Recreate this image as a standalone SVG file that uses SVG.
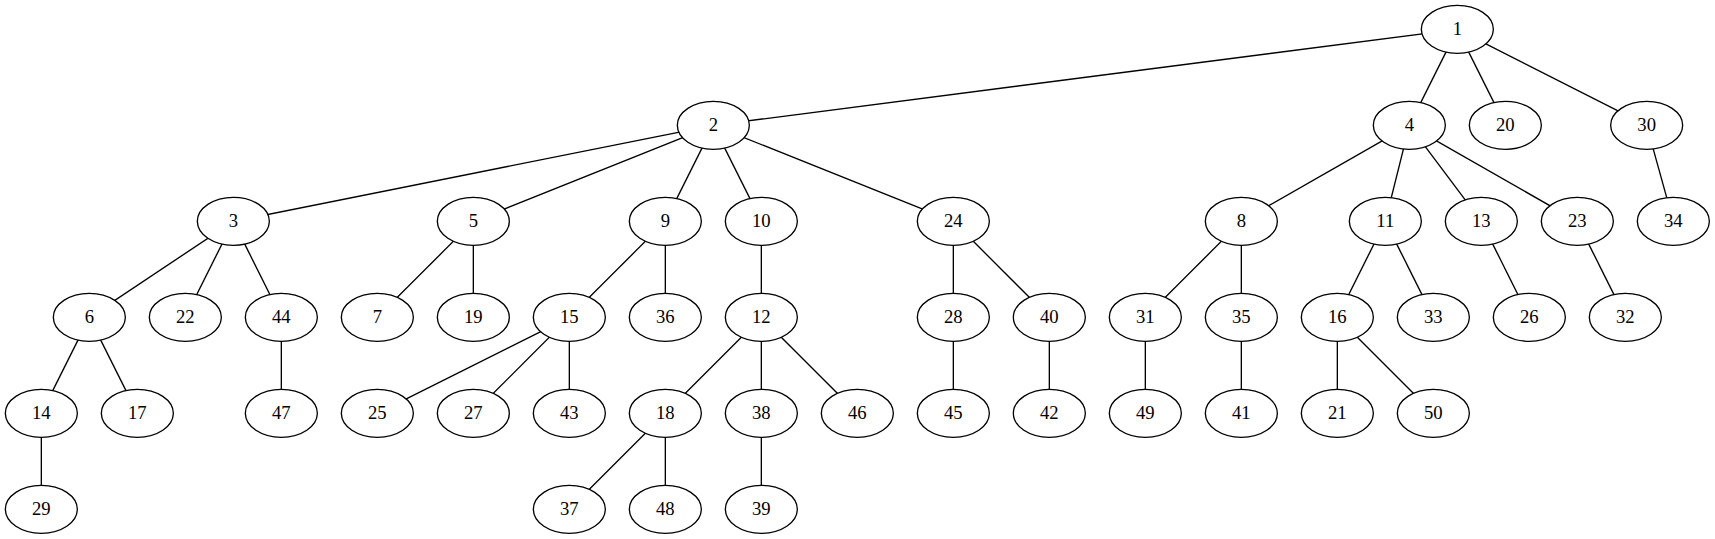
<svg xmlns="http://www.w3.org/2000/svg" width="1715" height="539" viewBox="0 0 1715 539">
<style>
.e line{stroke:#000;stroke-width:1;fill:none}
.n ellipse{fill:#fff;stroke:#000;stroke-width:1}
.n text{font-family:"Liberation Serif","Times New Roman",serif;font-size:14px;text-anchor:middle;fill:#000}
</style>
<rect width="1715" height="539" fill="#fff"/>
<g transform="scale(1.333333)">
<g id="edges" class="e">
<line x1="1093" y1="22" x2="535" y2="94"/>
<line x1="1093" y1="22" x2="1057" y2="94"/>
<line x1="1093" y1="22" x2="1129" y2="94"/>
<line x1="1093" y1="22" x2="1235" y2="94"/>
<line x1="535" y1="94" x2="175" y2="166"/>
<line x1="535" y1="94" x2="355" y2="166"/>
<line x1="535" y1="94" x2="499" y2="166"/>
<line x1="535" y1="94" x2="571" y2="166"/>
<line x1="535" y1="94" x2="715" y2="166"/>
<line x1="1057" y1="94" x2="931" y2="166"/>
<line x1="1057" y1="94" x2="1039" y2="166"/>
<line x1="1057" y1="94" x2="1111" y2="166"/>
<line x1="1057" y1="94" x2="1183" y2="166"/>
<line x1="1235" y1="94" x2="1255" y2="166"/>
<line x1="175" y1="166" x2="67" y2="238"/>
<line x1="175" y1="166" x2="139" y2="238"/>
<line x1="175" y1="166" x2="211" y2="238"/>
<line x1="355" y1="166" x2="283" y2="238"/>
<line x1="355" y1="166" x2="355" y2="238"/>
<line x1="499" y1="166" x2="427" y2="238"/>
<line x1="499" y1="166" x2="499" y2="238"/>
<line x1="571" y1="166" x2="571" y2="238"/>
<line x1="715" y1="166" x2="715" y2="238"/>
<line x1="715" y1="166" x2="787" y2="238"/>
<line x1="931" y1="166" x2="859" y2="238"/>
<line x1="931" y1="166" x2="931" y2="238"/>
<line x1="1039" y1="166" x2="1003" y2="238"/>
<line x1="1039" y1="166" x2="1075" y2="238"/>
<line x1="1111" y1="166" x2="1147" y2="238"/>
<line x1="1183" y1="166" x2="1219" y2="238"/>
<line x1="67" y1="238" x2="31" y2="310"/>
<line x1="67" y1="238" x2="103" y2="310"/>
<line x1="211" y1="238" x2="211" y2="310"/>
<line x1="427" y1="238" x2="283" y2="310"/>
<line x1="427" y1="238" x2="355" y2="310"/>
<line x1="427" y1="238" x2="427" y2="310"/>
<line x1="571" y1="238" x2="499" y2="310"/>
<line x1="571" y1="238" x2="571" y2="310"/>
<line x1="571" y1="238" x2="643" y2="310"/>
<line x1="715" y1="238" x2="715" y2="310"/>
<line x1="787" y1="238" x2="787" y2="310"/>
<line x1="859" y1="238" x2="859" y2="310"/>
<line x1="931" y1="238" x2="931" y2="310"/>
<line x1="1003" y1="238" x2="1003" y2="310"/>
<line x1="1003" y1="238" x2="1075" y2="310"/>
<line x1="31" y1="310" x2="31" y2="382"/>
<line x1="499" y1="310" x2="427" y2="382"/>
<line x1="499" y1="310" x2="499" y2="382"/>
<line x1="571" y1="310" x2="571" y2="382"/>
</g>
<g class="n">
<g id="node1"><ellipse cx="1093" cy="22" rx="27" ry="18"/><text x="1093" y="26.2">1</text></g>
<g id="node2"><ellipse cx="535" cy="94" rx="27" ry="18"/><text x="535" y="98.2">2</text></g>
<g id="node4"><ellipse cx="1057" cy="94" rx="27" ry="18"/><text x="1057" y="98.2">4</text></g>
<g id="node20"><ellipse cx="1129" cy="94" rx="27" ry="18"/><text x="1129" y="98.2">20</text></g>
<g id="node30"><ellipse cx="1235" cy="94" rx="27" ry="18"/><text x="1235" y="98.2">30</text></g>
<g id="node3"><ellipse cx="175" cy="166" rx="27" ry="18"/><text x="175" y="170.2">3</text></g>
<g id="node5"><ellipse cx="355" cy="166" rx="27" ry="18"/><text x="355" y="170.2">5</text></g>
<g id="node9"><ellipse cx="499" cy="166" rx="27" ry="18"/><text x="499" y="170.2">9</text></g>
<g id="node10"><ellipse cx="571" cy="166" rx="27" ry="18"/><text x="571" y="170.2">10</text></g>
<g id="node24"><ellipse cx="715" cy="166" rx="27" ry="18"/><text x="715" y="170.2">24</text></g>
<g id="node8"><ellipse cx="931" cy="166" rx="27" ry="18"/><text x="931" y="170.2">8</text></g>
<g id="node11"><ellipse cx="1039" cy="166" rx="27" ry="18"/><text x="1039" y="170.2">11</text></g>
<g id="node13"><ellipse cx="1111" cy="166" rx="27" ry="18"/><text x="1111" y="170.2">13</text></g>
<g id="node23"><ellipse cx="1183" cy="166" rx="27" ry="18"/><text x="1183" y="170.2">23</text></g>
<g id="node34"><ellipse cx="1255" cy="166" rx="27" ry="18"/><text x="1255" y="170.2">34</text></g>
<g id="node6"><ellipse cx="67" cy="238" rx="27" ry="18"/><text x="67" y="242.2">6</text></g>
<g id="node22"><ellipse cx="139" cy="238" rx="27" ry="18"/><text x="139" y="242.2">22</text></g>
<g id="node44"><ellipse cx="211" cy="238" rx="27" ry="18"/><text x="211" y="242.2">44</text></g>
<g id="node7"><ellipse cx="283" cy="238" rx="27" ry="18"/><text x="283" y="242.2">7</text></g>
<g id="node19"><ellipse cx="355" cy="238" rx="27" ry="18"/><text x="355" y="242.2">19</text></g>
<g id="node15"><ellipse cx="427" cy="238" rx="27" ry="18"/><text x="427" y="242.2">15</text></g>
<g id="node36"><ellipse cx="499" cy="238" rx="27" ry="18"/><text x="499" y="242.2">36</text></g>
<g id="node12"><ellipse cx="571" cy="238" rx="27" ry="18"/><text x="571" y="242.2">12</text></g>
<g id="node28"><ellipse cx="715" cy="238" rx="27" ry="18"/><text x="715" y="242.2">28</text></g>
<g id="node40"><ellipse cx="787" cy="238" rx="27" ry="18"/><text x="787" y="242.2">40</text></g>
<g id="node31"><ellipse cx="859" cy="238" rx="27" ry="18"/><text x="859" y="242.2">31</text></g>
<g id="node35"><ellipse cx="931" cy="238" rx="27" ry="18"/><text x="931" y="242.2">35</text></g>
<g id="node16"><ellipse cx="1003" cy="238" rx="27" ry="18"/><text x="1003" y="242.2">16</text></g>
<g id="node33"><ellipse cx="1075" cy="238" rx="27" ry="18"/><text x="1075" y="242.2">33</text></g>
<g id="node26"><ellipse cx="1147" cy="238" rx="27" ry="18"/><text x="1147" y="242.2">26</text></g>
<g id="node32"><ellipse cx="1219" cy="238" rx="27" ry="18"/><text x="1219" y="242.2">32</text></g>
<g id="node14"><ellipse cx="31" cy="310" rx="27" ry="18"/><text x="31" y="314.2">14</text></g>
<g id="node17"><ellipse cx="103" cy="310" rx="27" ry="18"/><text x="103" y="314.2">17</text></g>
<g id="node47"><ellipse cx="211" cy="310" rx="27" ry="18"/><text x="211" y="314.2">47</text></g>
<g id="node25"><ellipse cx="283" cy="310" rx="27" ry="18"/><text x="283" y="314.2">25</text></g>
<g id="node27"><ellipse cx="355" cy="310" rx="27" ry="18"/><text x="355" y="314.2">27</text></g>
<g id="node43"><ellipse cx="427" cy="310" rx="27" ry="18"/><text x="427" y="314.2">43</text></g>
<g id="node18"><ellipse cx="499" cy="310" rx="27" ry="18"/><text x="499" y="314.2">18</text></g>
<g id="node38"><ellipse cx="571" cy="310" rx="27" ry="18"/><text x="571" y="314.2">38</text></g>
<g id="node46"><ellipse cx="643" cy="310" rx="27" ry="18"/><text x="643" y="314.2">46</text></g>
<g id="node45"><ellipse cx="715" cy="310" rx="27" ry="18"/><text x="715" y="314.2">45</text></g>
<g id="node42"><ellipse cx="787" cy="310" rx="27" ry="18"/><text x="787" y="314.2">42</text></g>
<g id="node49"><ellipse cx="859" cy="310" rx="27" ry="18"/><text x="859" y="314.2">49</text></g>
<g id="node41"><ellipse cx="931" cy="310" rx="27" ry="18"/><text x="931" y="314.2">41</text></g>
<g id="node21"><ellipse cx="1003" cy="310" rx="27" ry="18"/><text x="1003" y="314.2">21</text></g>
<g id="node50"><ellipse cx="1075" cy="310" rx="27" ry="18"/><text x="1075" y="314.2">50</text></g>
<g id="node29"><ellipse cx="31" cy="382" rx="27" ry="18"/><text x="31" y="386.2">29</text></g>
<g id="node37"><ellipse cx="427" cy="382" rx="27" ry="18"/><text x="427" y="386.2">37</text></g>
<g id="node48"><ellipse cx="499" cy="382" rx="27" ry="18"/><text x="499" y="386.2">48</text></g>
<g id="node39"><ellipse cx="571" cy="382" rx="27" ry="18"/><text x="571" y="386.2">39</text></g>
</g>
</g>
</svg>
